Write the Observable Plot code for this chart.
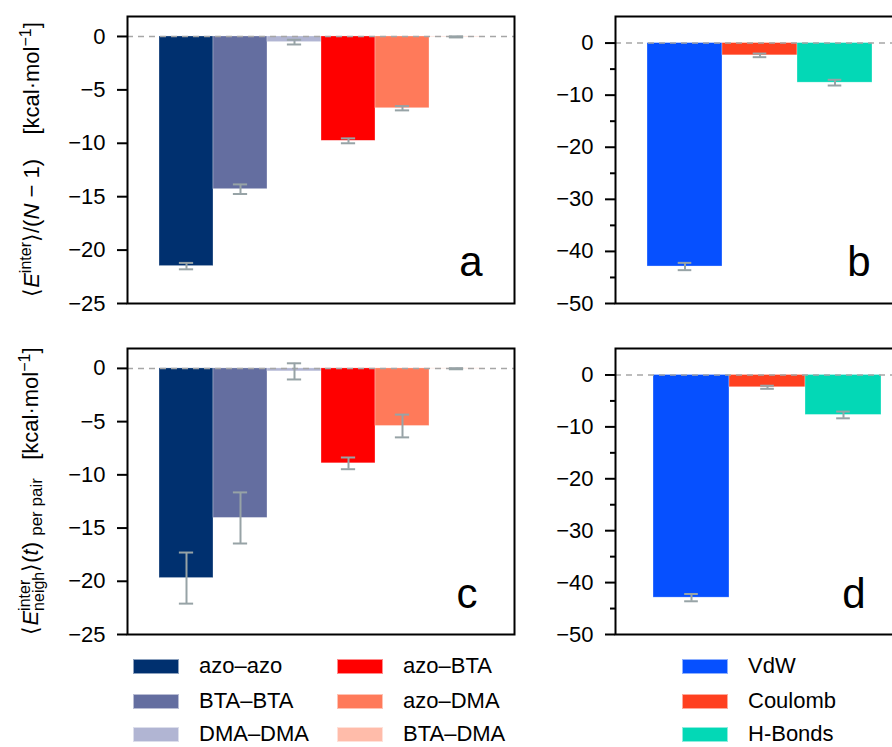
<!DOCTYPE html>
<html><head><meta charset="utf-8">
<script src="https://cdn.jsdelivr.net/npm/d3@7"></script>
<script src="https://cdn.jsdelivr.net/npm/@observablehq/plot@0.6"></script>
<style>
html,body{margin:0;padding:0;background:#fff;overflow:hidden;width:892px;height:747px;}
#fig{position:relative;width:892px;height:747px;overflow:hidden;font-family:"Liberation Sans",Arial,sans-serif;background:#fff;}
.panel{position:absolute;}
.panel svg{overflow:visible;max-width:none !important;}
.leg{position:absolute;display:flex;align-items:center;height:18px;line-height:18px;font-size:22px;color:#000;white-space:nowrap;}
.sw{width:46px;height:15px;margin-right:20px;box-sizing:border-box;border:0.6px solid rgba(255,255,255,0.55);flex:none;}
</style></head><body><div id="fig"></div>
<script>
// ---- data ----
const pairCats = ["azo–azo", "BTA–BTA", "DMA–DMA", "azo–BTA", "azo–DMA", "BTA–DMA"];
const pairColors = ["#00306f", "#646ea0", "#b1b5d3", "#ff0000", "#ff7a5a", "#ffbcaa"];
const termCats = ["VdW", "Coulomb", "H-Bonds"];
const termColors = ["#0650ff", "#ff4020", "#03d8b6"];

const aValues = [-21.5, -14.3, -0.53, -9.77, -6.72, -0.04];
const aErrors = [0.3, 0.45, 0.22, 0.23, 0.2, 0.05];
const bValues = [-42.9, -2.36, -7.6];
const bErrors = [0.7, 0.35, 0.55];
const cValues = [-19.7, -14.05, -0.28, -8.92, -5.41, -0.03];
const cErrors = [2.4, 2.4, 0.76, 0.55, 1.07, 0.05];
const dValues = [-42.9, -2.37, -7.7];
const dErrors = [0.7, 0.3, 0.65];

const pairTicks = [0, -5, -10, -15, -20, -25];
const termTicks = [0, -10, -20, -30, -40, -50];
const termMinorTicks = [-5, -15, -25, -35, -45];

const errColor = "#97a3a6";
const FONT = "'Liberation Sans', Arial, sans-serif";

function panel(o) {
  const data = o.cats.map((c, i) => ({cat: c, v: o.values[i], e: o.errors[i]}));
  const bw = (o.width - o.ml - o.mr - o.insetLeft - o.insetRight) / o.cats.length;
  const capInset = (bw - o.capWidth) / 2;
  const marks = [
    Plot.barY(data, {x: "cat", y: "v", fill: "cat", stroke: "white", strokeOpacity: 0.5, strokeWidth: 0.6}),
    Plot.ruleY([0], {stroke: "#a6a6a6", strokeWidth: 1.5, strokeDasharray: "6,5"}),
    Plot.ruleX(data, {x: "cat", y1: d => d.v - d.e, y2: d => d.v + d.e, stroke: errColor, strokeWidth: 2}),
    Plot.tickY(data, {x: "cat", y: d => d.v - d.e, stroke: errColor, strokeWidth: 2, insetLeft: capInset, insetRight: capInset}),
    Plot.tickY(data, {x: "cat", y: d => d.v + d.e, stroke: errColor, strokeWidth: 2, insetLeft: capInset, insetRight: capInset}),
    Plot.axisY({ticks: o.ticks, tickSize: 10, tickPadding: 12, strokeWidth: 2, fontSize: 22, stroke: "black", fill: "black", label: null}),
  ];
  if (o.minor) marks.push(Plot.axisY({ticks: o.minor, tickSize: 5, strokeWidth: 2, stroke: "black", text: null, label: null}));
  marks.push(Plot.frame({stroke: "black", strokeWidth: 2}));
  marks.push(Plot.text([o.letter], {frameAnchor: "bottom-right", text: d => d, fontSize: 42, textAnchor: "end", lineAnchor: "bottom", dx: o.ldx, dy: o.ldy, fill: "black"}));
  return Plot.plot({
    width: o.width, height: o.height,
    marginLeft: o.ml, marginRight: o.mr, marginTop: o.mt, marginBottom: o.mb,
    style: {background: "transparent", fontFamily: FONT, fontSize: "22px", color: "black", overflow: "visible", maxWidth: "none"},
    x: {type: "band", domain: o.cats, padding: 0, insetLeft: o.insetLeft, insetRight: o.insetRight, axis: null},
    y: {domain: o.yDomain, axis: null},
    color: {type: "ordinal", domain: o.cats, range: o.colors},
    marks
  });
}

const fig = document.getElementById("fig");
function place(svg, left, top, w, h) {
  const d = document.createElement("div");
  d.className = "panel";
  d.style.left = left + "px"; d.style.top = top + "px";
  d.style.width = w + "px"; d.style.height = h + "px";
  d.appendChild(svg);
  fig.appendChild(d);
  return svg;
}

const svgA = place(panel({cats: pairCats, colors: pairColors, values: aValues, errors: aErrors,
  yDomain: [-25, 1.87], ticks: pairTicks, width: 520, height: 320, ml: 127, mr: 6, mt: 16, mb: 17,
  insetLeft: 30, insetRight: 28.5, capWidth: 15, letter: "a", ldx: -32, ldy: -28}), 0, 0, 520, 320);
const svgB = place(panel({cats: termCats, colors: termColors, values: bValues, errors: bErrors,
  yDomain: [-50, 5.1], ticks: termTicks, minor: termMinorTicks, width: 400, height: 320, ml: 95, mr: 18, mt: 16, mb: 17,
  insetLeft: 31, insetRight: 29.7, capWidth: 14, letter: "b", ldx: -32, ldy: -28}), 520, 0, 400, 320);
const svgC = place(panel({cats: pairCats, colors: pairColors, values: cValues, errors: cErrors,
  yDomain: [-25, 1.87], ticks: pairTicks, width: 520, height: 330, ml: 127, mr: 6, mt: 28, mb: 16,
  insetLeft: 30, insetRight: 28.5, capWidth: 15, letter: "c", ldx: -37, ldy: -27}), 0, 320, 520, 330);
const svgD = place(panel({cats: termCats, colors: termColors, values: dValues, errors: dErrors,
  yDomain: [-50, 5.1], ticks: termTicks, minor: termMinorTicks, width: 400, height: 330, ml: 95, mr: 18, mt: 28, mb: 16,
  insetLeft: 37.7, insetRight: 20.3, capWidth: 14, letter: "d", ldx: -37, ldy: -27}), 520, 320, 400, 330);

// ---- y-axis titles with super/subscripts ----
function addLabelA(svg, x, y) {
  const t = d3.select(svg).append("text")
    .attr("transform", `translate(${x},${y}) rotate(-90)`)
    .attr("text-anchor", "middle").attr("font-size", 22).attr("fill", "black")
    .attr("font-family", FONT);
  t.append("tspan").text("⟨");
  t.append("tspan").attr("font-style", "italic").text("E");
  t.append("tspan").attr("font-size", 16).attr("dy", -8).text("inter");
  t.append("tspan").attr("dy", 8).text("⟩/(");
  t.append("tspan").attr("font-style", "italic").text("N");
  t.append("tspan").text(" − 1)\u00a0\u00a0\u00a0\u00a0[kcal·mol");
  t.append("tspan").attr("font-size", 16).attr("dy", -8).text("−1");
  t.append("tspan").attr("dy", 8).text("]");
}
function addLabelC(svg, x, y) {
  const t = d3.select(svg).append("text")
    .attr("transform", `translate(${x},${y}) rotate(-90)`)
    .attr("text-anchor", "middle").attr("font-size", 22).attr("fill", "black")
    .attr("font-family", FONT);
  t.append("tspan").text("⟨");
  t.append("tspan").attr("font-style", "italic").text("E");
  const sup = t.append("tspan").attr("font-size", 16).attr("dy", -8).text("inter");
  const sub = t.append("tspan").attr("font-size", 16).attr("dy", 14).text("neigh");
  t.append("tspan").attr("dy", -6).text("⟩(");
  t.append("tspan").attr("font-style", "italic").text("t");
  t.append("tspan").text(")\u00a0");
  t.append("tspan").attr("font-size", 17).attr("dy", 4).text("per pair");
  t.append("tspan").attr("dy", -4).text("\u00a0\u00a0\u00a0[kcal·mol");
  t.append("tspan").attr("font-size", 16).attr("dy", -8).text("−1");
  t.append("tspan").attr("dy", 8).text("]");
  const w = sup.node().getComputedTextLength();
  sub.attr("dx", -w);
}
addLabelA(svgA, 39, 159.5);
addLabelC(svgC, 38, 171);

// ---- legend ----
const legendCols = [
  {cats: pairCats.slice(0, 3), colors: pairColors.slice(0, 3), x: 133},
  {cats: pairCats.slice(3, 6), colors: pairColors.slice(3, 6), x: 337},
  {cats: termCats, colors: termColors, x: 682}
];
const rowY = [666, 701, 734];
legendCols.forEach(col => {
  col.cats.forEach((c, i) => {
    const d = document.createElement("div");
    d.className = "leg";
    d.style.left = col.x + "px";
    d.style.top = (rowY[i] - 9) + "px";
    const s = document.createElement("div");
    s.className = "sw"; s.style.background = col.colors[i];
    const t = document.createElement("span"); t.textContent = c;
    d.appendChild(s); d.appendChild(t);
    fig.appendChild(d);
  });
});
</script></body></html>
